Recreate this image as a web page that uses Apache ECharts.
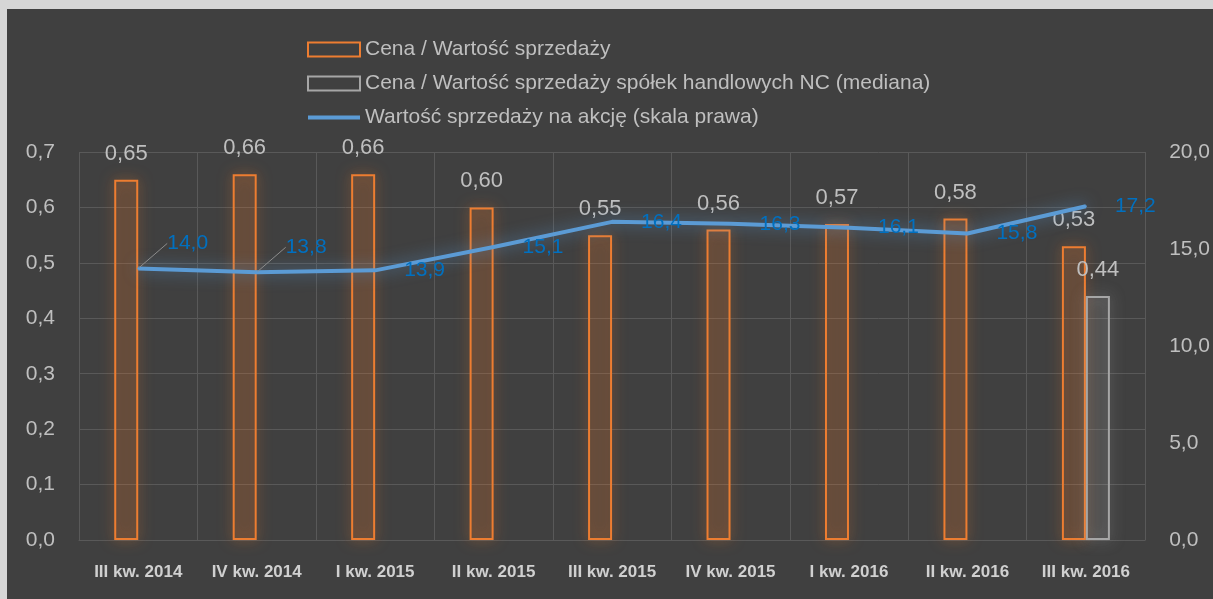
<!DOCTYPE html>
<html>
<head>
<meta charset="utf-8">
<script src="https://cdn.jsdelivr.net/npm/echarts@6/dist/echarts.min.js"></script>
<style>
  html, body { margin: 0; padding: 0; background: #d6d6d6; }
  #main { position: absolute; left: 7px; top: 9px; width: 1206px; height: 590px; background: #404040; }
</style>
</head>
<body>
<div id="main"></div>
<script>
var categories = ['III kw. 2014', 'IV kw. 2014', 'I kw. 2015', 'II kw. 2015', 'III kw. 2015', 'IV kw. 2015', 'I kw. 2016', 'II kw. 2016', 'III kw. 2016'];
var cenaWartosc = [0.65, 0.66, 0.66, 0.60, 0.55, 0.56, 0.57, 0.58, 0.53];
var cenaMediana = [null, null, null, null, null, null, null, null, 0.44];
var wartoscNaAkcje = [14.0, 13.8, 13.9, 15.1, 16.4, 16.3, 16.1, 15.8, 17.2];
var leftTicks = { min: 0, max: 0.7, interval: 0.1 };
var rightTicks = { min: 0, max: 20, interval: 5 };

var nameBar1 = 'Cena / Wartość sprzedaży';
var nameBar2 = 'Cena / Wartość sprzedaży spółek handlowych NC (mediana)';
var nameLine = 'Wartość sprzedaży na akcję (skala prawa)';

var font = '"Liberation Sans", sans-serif';

function pl(v, d) {
  return v.toFixed(d).replace('.', ',');
}

// first two line labels are lifted up with a leader line, like in the original
var lineData = wartoscNaAkcje.map(function (v, i) {
  if (i < 2) {
    return { value: v, labelLine: { show: true, lineStyle: { color: '#8c8c8c', width: 1 } } };
  }
  return v;
});

var myChart = echarts.init(document.getElementById('main'));

var option = {
  backgroundColor: '#404040',
  textStyle: { fontFamily: font },
  legend: {
    orient: 'vertical',
    left: 294,
    top: 23,
    itemWidth: 52,
    itemHeight: 14,
    itemGap: 9,
    textStyle: { color: '#bfbfbf', fontSize: 21, lineHeight: 25, fontFamily: font },
    data: [
      { name: nameBar1, icon: 'rect', itemStyle: { color: 'transparent', borderColor: '#ed7d31', borderWidth: 2, shadowBlur: 0 } },
      { name: nameBar2, icon: 'rect', itemStyle: { color: 'transparent', borderColor: '#a6a6a6', borderWidth: 2, shadowBlur: 0 } },
      { name: nameLine, itemStyle: { opacity: 0 }, lineStyle: { width: 4, color: '#5b9bd5', shadowBlur: 0 } }
    ]
  },
  grid: { left: 72, right: 66, top: 143, bottom: 59 },
  xAxis: {
    type: 'category',
    data: categories,
    axisTick: { show: false },
    axisLine: { lineStyle: { color: '#595959' } },
    axisLabel: { color: '#d0d0d0', fontSize: 17, fontWeight: 'bold', margin: 24, interval: 0, fontFamily: font },
    splitLine: { show: true, lineStyle: { color: '#595959' } }
  },
  yAxis: [
    {
      type: 'value',
      min: leftTicks.min, max: leftTicks.max, interval: leftTicks.interval,
      axisLine: { show: false },
      axisLabel: { color: '#bfbfbf', fontSize: 21, margin: 24, formatter: function (v) { return pl(v, 1); } },
      splitLine: { lineStyle: { color: '#595959' } }
    },
    {
      type: 'value',
      min: rightTicks.min, max: rightTicks.max, interval: rightTicks.interval,
      axisLine: { show: false },
      axisLabel: { color: '#bfbfbf', fontSize: 21, margin: 24, formatter: function (v) { return pl(v, 1); } },
      splitLine: { show: false }
    }
  ],
  series: [
    {
      name: nameBar1,
      type: 'bar',
      barWidth: 24,
      barGap: '0%',
      data: cenaWartosc,
      itemStyle: {
        color: 'rgba(237,125,49,0.12)',
        borderColor: '#ed7d31',
        borderWidth: 2,
        shadowBlur: 14,
        shadowColor: 'rgba(237,125,49,0.7)'
      },
      label: {
        show: true, position: 'top', distance: 15,
        color: '#bfbfbf', fontSize: 22,
        formatter: function (p) { return pl(p.value, 2); }
      }
    },
    {
      name: nameBar2,
      type: 'bar',
      barWidth: 24,
      data: cenaMediana,
      itemStyle: {
        color: 'rgba(200,200,200,0.08)',
        borderColor: '#a6a6a6',
        borderWidth: 2,
        shadowBlur: 14,
        shadowColor: 'rgba(200,200,200,0.55)'
      },
      label: {
        show: true, position: 'top', distance: 15,
        color: '#bfbfbf', fontSize: 22,
        formatter: function (p) { return p.value == null ? '' : pl(p.value, 2); }
      }
    },
    {
      name: nameLine,
      type: 'line',
      yAxisIndex: 1,
      symbol: 'circle',
      symbolSize: 2,
      showSymbol: true,
      data: lineData,
      z: 5,
      lineStyle: {
        color: '#5b9bd5',
        width: 4,
        shadowBlur: 16,
        shadowColor: 'rgba(91,155,213,0.75)'
      },
      itemStyle: { color: '#5b9bd5' },
      label: {
        show: true, position: 'right', distance: 28,
        color: '#0070c0', fontSize: 21,
        formatter: function (p) { return pl(p.value, 1); }
      },
      labelLine: { show: false },
      labelLayout: function (params) {
        if (params.dataIndex < 2) {
          return { dy: -25 };
        }
        return {};
      }
    }
  ]
};

myChart.setOption(option);
</script>
</body>
</html>
